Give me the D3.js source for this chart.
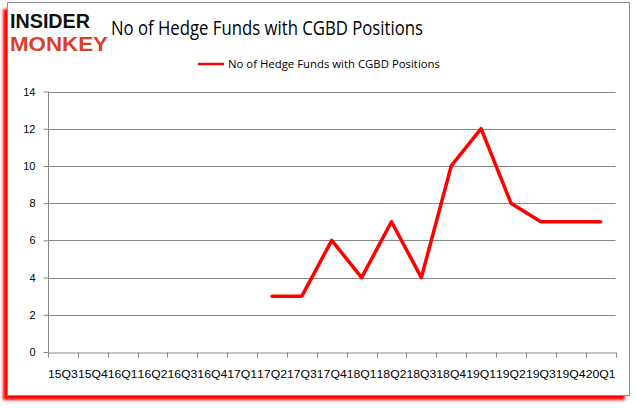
<!DOCTYPE html>
<html><head><meta charset="utf-8">
<script src="https://cdn.jsdelivr.net/npm/d3@7"></script>
<style>body{margin:0;background:#fff;}svg{display:block;}</style>
</head><body>
<script>
const categories = ["15Q3","15Q4","16Q1","16Q2","16Q3","16Q4","17Q1","17Q2","17Q3","17Q4","18Q1","18Q2","18Q3","18Q4","19Q1","19Q2","19Q3","19Q4","20Q1"];
const values = [null,null,null,null,null,null,null,3,3,6,4,7,4,10,12,8,7,7,7];
const yTicks = [0,2,4,6,8,10,12,14];
const seriesName = "No of Hedge Funds with CGBD Positions";
const titleText = "No of Hedge Funds with CGBD Positions";

const W = 637, H = 408;
const svg = d3.select("body").append("svg").attr("width", W).attr("height", H);
const defs = svg.append("defs");
const f = defs.append("filter").attr("id","sh").attr("x","-5%").attr("y","-5%").attr("width","110%").attr("height","115%");
f.append("feGaussianBlur").attr("stdDeviation", 1.6);

// shadow + frame
svg.append("rect").attr("x", 3).attr("y", 9).attr("width", 622).attr("height", 391)
  .attr("fill", "#ff0000").attr("filter", "url(#sh)");
svg.append("rect").attr("x", 7.5).attr("y", 2.5).attr("width", 622).attr("height", 393)
  .attr("fill", "#fff").attr("stroke", "#8c8c8c").attr("stroke-width", 1);

const m = {left: 48, right: 615.5, top: 91.5, bottom: 352};
const x = d3.scaleBand().domain(categories).range([m.left, m.right]);
const y = d3.scaleLinear().domain([0, 14]).range([m.bottom, m.top]);

// gridlines
svg.append("g").selectAll("line").data(yTicks.filter(d => d > 0)).join("line")
  .attr("x1", m.left).attr("x2", m.right)
  .attr("y1", d => Math.round(y(d)) + 0.5).attr("y2", d => Math.round(y(d)) + 0.5)
  .attr("stroke", "#878787").attr("stroke-width", 1);

// y axis
const ya = svg.append("g").attr("transform", `translate(${m.left + 0.5},0)`)
  .call(d3.axisLeft(y).tickValues(yTicks).tickSize(5).tickPadding(8).tickFormat(d3.format("d")));
ya.select(".domain").attr("stroke", "#878787").attr("d", `M0,${y(14)}V${y(0)}`);
ya.selectAll(".tick line").attr("stroke", "#878787");
ya.selectAll(".tick text").attr("font-family", "'Liberation Sans', Arial, sans-serif").attr("font-size", 11).attr("fill", "#000");

// x axis
const xa = svg.append("g").attr("transform", `translate(0,${Math.round(m.bottom) + 0.5})`)
  .call(d3.axisBottom(x).tickSize(0).tickPadding(18));
xa.select(".domain").attr("stroke", "#878787");
xa.selectAll(".tick line").remove();
xa.append("g").selectAll("line").data(categories.concat(["__end"])).join("line")
  .attr("x1", (d, i) => i < categories.length ? Math.round(x(d)) + 0.5 : Math.round(m.right) + 0.5)
  .attr("x2", (d, i) => i < categories.length ? Math.round(x(d)) + 0.5 : Math.round(m.right) + 0.5)
  .attr("y1", 0).attr("y2", 5).attr("stroke", "#878787");
xa.selectAll(".tick text").attr("font-family", "'Liberation Sans', Arial, sans-serif").attr("font-size", 11).attr("fill", "#000")
  .attr("textLength", x.bandwidth()).attr("lengthAdjust", "spacingAndGlyphs");

// line
const pts = categories.map((c, i) => ({c, v: values[i]})).filter(d => d.v != null);
svg.append("path").datum(pts)
  .attr("d", d3.line().x(d => x(d.c) + x.bandwidth() / 2).y(d => y(d.v)))
  .attr("fill", "none").attr("stroke", "#ff0000").attr("stroke-width", 3.5)
  .attr("stroke-linejoin", "round").attr("stroke-linecap", "round");

// title
svg.append("text").attr("x", 111).attr("y", 35).text(titleText)
  .attr("font-family", "'Open Sans', 'Liberation Sans', sans-serif").attr("font-size", 20).attr("fill", "#000")
  .attr("textLength", 312).attr("lengthAdjust", "spacingAndGlyphs");

// legend
svg.append("line").attr("x1", 198).attr("x2", 224).attr("y1", 64).attr("y2", 64)
  .attr("stroke", "#ff0000").attr("stroke-width", 2.5);
svg.append("text").attr("x", 228).attr("y", 68).text(seriesName)
  .attr("font-family", "'Open Sans', 'Liberation Sans', sans-serif").attr("font-size", 11).attr("fill", "#000")
  .attr("textLength", 212).attr("lengthAdjust", "spacingAndGlyphs");

// logo
svg.append("text").attr("x", 10).attr("y", 28).text("INSIDER")
  .attr("font-family", "'Liberation Sans', Arial, sans-serif").attr("font-weight", "bold").attr("font-size", 20)
  .attr("fill", "#111").attr("textLength", 80).attr("lengthAdjust", "spacingAndGlyphs");
svg.append("text").attr("x", 10).attr("y", 50.5).text("MONKEY")
  .attr("font-family", "'Liberation Sans', Arial, sans-serif").attr("font-weight", "bold").attr("font-size", 20)
  .attr("fill", "#d8402a").attr("textLength", 98).attr("lengthAdjust", "spacingAndGlyphs");
</script>
</body></html>
